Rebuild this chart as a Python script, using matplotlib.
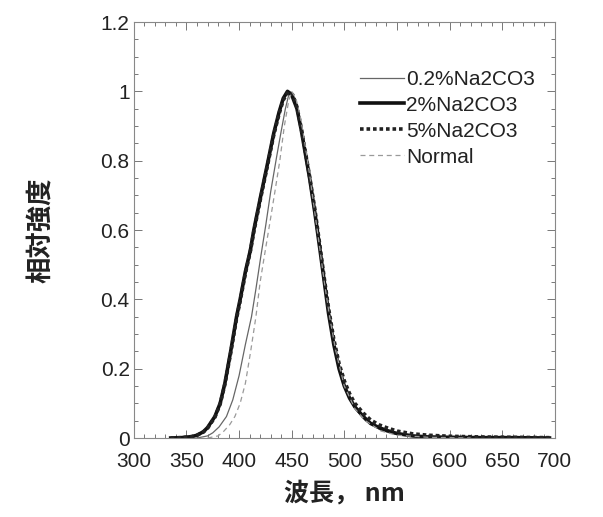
import matplotlib
matplotlib.use('Agg')
import matplotlib.pyplot as plt
from matplotlib.ticker import MultipleLocator

# ── Data ─────────────────────────────────────────────────────────────────────

wl_2pct = [335, 345, 355, 360, 366, 370, 377, 382, 386.5, 392, 397.6, 401,
           406, 410.8, 414, 420, 427.6, 433, 438, 442, 446, 450, 455, 459,
           463, 467, 472, 477, 481, 485, 490, 495, 500, 505, 510, 518, 525,
           533, 540, 550, 565, 580, 600, 630, 660, 695]
int_2pct = [0.0, 0.001, 0.004, 0.008, 0.018, 0.03, 0.062, 0.1, 0.158, 0.25,
            0.35, 0.40, 0.48, 0.543, 0.60, 0.69, 0.80, 0.88, 0.94, 0.98, 1.0,
            0.99, 0.95, 0.89, 0.82, 0.75, 0.65, 0.54, 0.45, 0.36, 0.27, 0.20,
            0.15, 0.115, 0.09, 0.062, 0.042, 0.03, 0.022, 0.013, 0.006,
            0.003, 0.002, 0.001, 0.001, 0.0]

wl_5pct = [335, 345, 355, 360, 366, 370, 377, 382, 386.5, 392, 397.6, 401,
           406, 410.8, 414, 420, 427.6, 433, 438, 442, 447, 451, 455, 459,
           463, 467, 472, 477, 481, 485, 490, 495, 500, 505, 510, 518, 525,
           533, 540, 550, 565, 580, 600, 630, 660, 695]
int_5pct = [0.0, 0.001, 0.004, 0.008, 0.017, 0.028, 0.06, 0.098, 0.155, 0.245,
            0.345, 0.395, 0.475, 0.54, 0.595, 0.685, 0.795, 0.875, 0.935,
            0.975, 1.0, 0.99, 0.955, 0.895, 0.825, 0.755, 0.66, 0.55, 0.46,
            0.375, 0.285, 0.215, 0.165, 0.128, 0.1, 0.072, 0.052, 0.038,
            0.03, 0.02, 0.012, 0.008, 0.005, 0.003, 0.002, 0.001]

wl_02pct = [360, 370, 375, 381, 388, 394, 400, 406, 411.8, 416, 420.7, 425.4,
            430, 435.6, 440, 444, 448, 452, 456, 460, 465, 470, 476, 481, 486,
            492, 500, 510, 520, 535, 550, 580, 620]
int_02pct = [0.0, 0.006, 0.015, 0.032, 0.062, 0.11, 0.18, 0.27, 0.35, 0.43,
             0.525, 0.615, 0.71, 0.81, 0.885, 0.95, 1.0, 0.985, 0.94, 0.88,
             0.79, 0.69, 0.56, 0.45, 0.35, 0.25, 0.15, 0.085, 0.05, 0.022,
             0.01, 0.003, 0.0]

wl_normal = [370, 380, 385, 391, 396, 401, 406, 411, 416, 420, 425, 429.2,
             434, 438.7, 443, 447, 450, 454, 458, 462, 467, 472, 477, 481,
             486, 492, 500, 510, 520, 535, 550, 580, 620]
int_normal = [0.0, 0.006, 0.018, 0.038, 0.062, 0.10, 0.158, 0.25, 0.35, 0.45,
              0.543, 0.62, 0.71, 0.80, 0.90, 0.97, 1.0, 0.98, 0.93, 0.86, 0.76,
              0.65, 0.54, 0.45, 0.35, 0.25, 0.15, 0.085, 0.05, 0.02, 0.008,
              0.002, 0.0]

labels = ["0.2%Na2CO3", "2%Na2CO3", "5%Na2CO3", "Normal"]

x_ticks = [300, 350, 400, 450, 500, 550, 600, 650, 700]
y_ticks = [0, 0.2, 0.4, 0.6, 0.8, 1, 1.2]
y_tick_labels = ["0", "0.2", "0.4", "0.6", "0.8", "1", "1.2"]

# ── Figure ───────────────────────────────────────────────────────────────────

plt.rcParams['font.family'] = ['Liberation Sans', 'DejaVu Sans']
cjk = ['Noto Sans CJK JP', 'DejaVu Sans']

fig = plt.figure(figsize=(6.03, 5.17), dpi=100)
ax = fig.add_axes([0.222, 0.1528, 0.698, 0.8046])

ax.plot(wl_02pct, int_02pct, color="#666666", linewidth=0.9, label=labels[0])
ax.plot(wl_2pct, int_2pct, color="#111111", linewidth=2.6, label=labels[1])
ax.plot(wl_5pct, int_5pct, color="#222222", linewidth=2.6,
        linestyle=(0, (1, 0.8)), label=labels[2])
ax.plot(wl_normal, int_normal, color="#9a9a9a", linewidth=0.9,
        linestyle=(0, (4, 3)), label=labels[3])

ax.set_xlim(300, 700)
ax.set_ylim(0, 1.2)
ax.set_xticks(x_ticks)
ax.set_yticks(y_ticks)
ax.set_yticklabels(y_tick_labels)
ax.xaxis.set_minor_locator(MultipleLocator(10))
ax.yaxis.set_minor_locator(MultipleLocator(0.05))

ax.tick_params(which="both", direction="in", top=True, right=True,
               color="#777777", width=0.7)
ax.tick_params(which="major", length=6, labelsize=15, labelcolor="#222222")
ax.tick_params(axis="x", which="major", pad=10)
ax.tick_params(axis="y", which="major", pad=3)
ax.tick_params(which="minor", length=3)
for sp in ax.spines.values():
    sp.set_color("#888888")
    sp.set_linewidth(0.8)

ax.set_xlabel("波長， nm", family=cjk, fontsize=18, fontweight="bold",
              color="#222222", labelpad=7)
ax.set_ylabel("相対強度", family=cjk, fontsize=19, fontweight="bold",
              color="#222222", labelpad=33)

leg = ax.legend(loc="upper right", bbox_to_anchor=(0.972, 0.905),
                frameon=False, fontsize=15, handlelength=2.1,
                handletextpad=0.1, labelspacing=0.33, borderaxespad=0)
for t in leg.get_texts():
    t.set_color("#222222")

fig.savefig("out.png", dpi=100)
